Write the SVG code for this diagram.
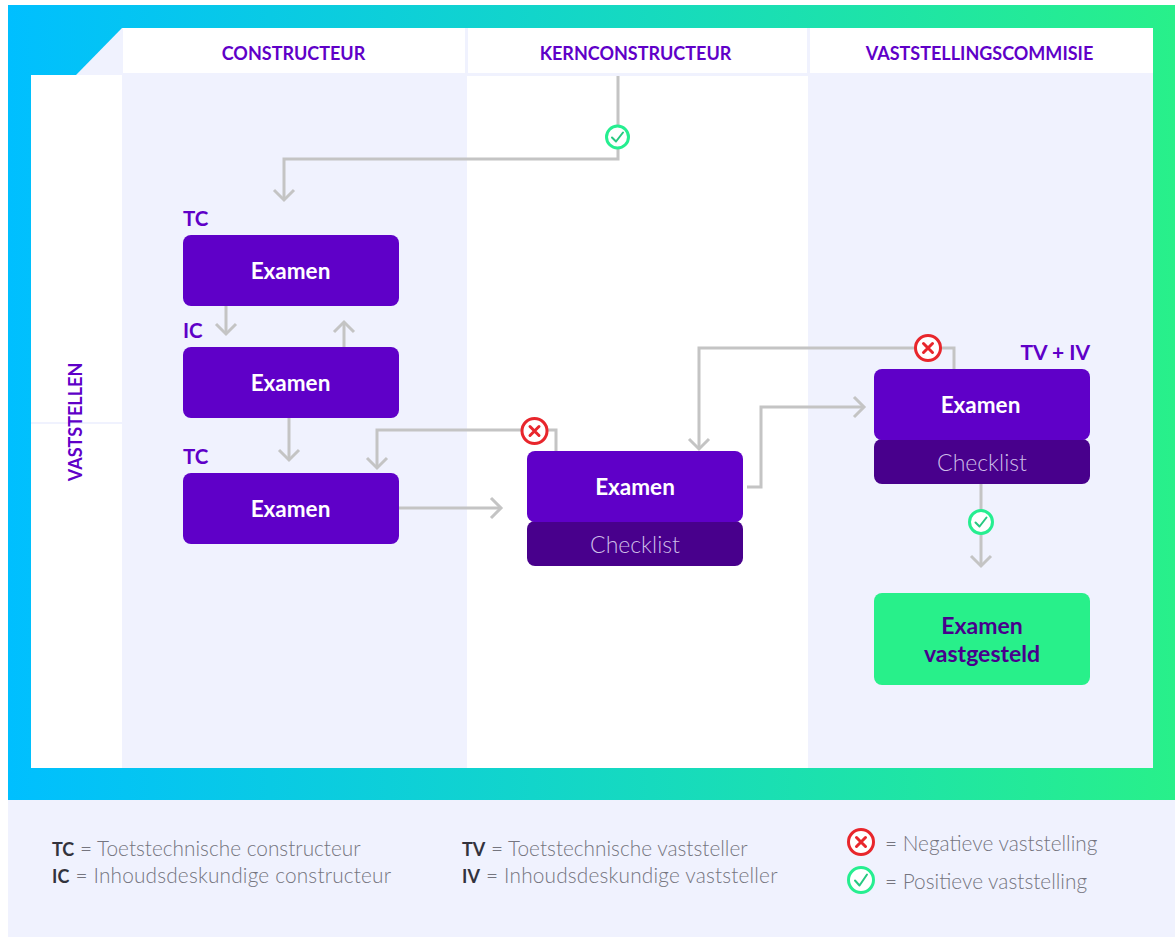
<svg xmlns="http://www.w3.org/2000/svg" width="1175" height="937" viewBox="0 0 1175 937">
<style>
text{font-family:Lato,"Liberation Sans",sans-serif}
.lane{font-weight:700;font-size:18px;fill:#5f00c8;text-anchor:middle}
.role{font-weight:700;font-size:20.500px;fill:#5f00c8}
.ex{fill:#5f00c8}
.cl{fill:#48008c}
.t{font-weight:700;font-size:22.500px;fill:#fff;text-anchor:middle}
.c{font-weight:300;font-size:23px;fill:#cdbde8;text-anchor:middle}
.g{font-weight:700;font-size:23px;fill:#48008c;text-anchor:middle}
.l{font-weight:300;font-size:20.800px;fill:#75757f}
.l tspan{font-weight:700;font-size:18px;fill:#33333d}
.s{letter-spacing:.18px}
.w{fill:none;stroke:#c4c4c4;stroke-width:3}
.no{fill:#fff;stroke:#e8262c;stroke-width:3}
.nox{fill:none;stroke:#e8262c;stroke-width:3;stroke-linecap:round}
.ok{fill:#fff;stroke:#26ee90;stroke-width:3}
.okv{fill:none;stroke:#26c880;stroke-width:2;stroke-linecap:round;stroke-linejoin:round}
</style>
<defs>
<linearGradient id="gr" x1="0" x2="1" y1="0" y2="0"><stop offset="0" stop-color="#00bfff"/><stop offset="1" stop-color="#28f08a"/></linearGradient>
<marker id="a" markerUnits="userSpaceOnUse" markerWidth="24" markerHeight="24" refX="19" refY="12" orient="auto"><path d="M9 2L19 12L9 22" fill="none" stroke="#c4c4c4" stroke-width="3"/></marker>
</defs>
<rect width="1175" height="937" fill="#fff"/>
<g id="background">
<rect x="8" y="5" width="1167" height="795" fill="url(#gr)"/>
<rect x="8" y="800" width="1167" height="137" fill="#f0f2fe"/>
<rect x="31" y="75" width="1122" height="693" fill="#fff"/>
<path d="M76 75L122 28H123V75Z" fill="#f0f2fe"/>
<rect x="123" y="28" width="1030" height="45" fill="#fff"/>
<rect x="122" y="73" width="345" height="695" fill="#f0f2fe"/>
<rect x="808" y="73" width="345" height="695" fill="#f0f2fe"/>
<rect x="467" y="73" width="341" height="3" fill="#f0f2fe"/>
<rect x="465" y="28" width="3" height="45" fill="#f0f2fe"/>
<rect x="807" y="28" width="3" height="45" fill="#f0f2fe"/>
<rect x="31" y="422" width="91" height="2" fill="#f0f2fe"/>
<text class="lane" x="293.500" y="59.500">CONSTRUCTEUR</text>
<text class="lane" x="635.500" y="59.500">KERNCONSTRUCTEUR</text>
<text class="lane" x="979.500" y="59.500">VASTSTELLINGSCOMMISIE</text>
<text class="lane" transform="translate(81.500 422) rotate(-90)">VASTSTELLEN</text>
</g>
<g id="connectors">
<path class="w" marker-end="url(#a)" d="M618 76V159H284V200"/>
<path class="w" marker-end="url(#a)" d="M226 306V334"/>
<path class="w" marker-end="url(#a)" d="M344 347V322"/>
<path class="w" marker-end="url(#a)" d="M289 418V460"/>
<path class="w" marker-end="url(#a)" d="M556 451V430H377V468"/>
<path class="w" marker-end="url(#a)" d="M399 508H501"/>
<path class="w" marker-end="url(#a)" d="M747 487H761V407H864"/>
<path class="w" marker-end="url(#a)" d="M954 369V348H699V449"/>
<path class="w" marker-end="url(#a)" d="M981 484V566"/>
</g>
<g id="badge-ok-1"><circle class="ok" cx="617.500" cy="137" r="11"/><path class="okv" d="M612 137.500L616 141.500L623 132.500"/></g>
<g id="badge-no-1"><circle class="no" cx="534.500" cy="431" r="12.500"/><path class="nox" d="M530 426.500L539 435.500M539 426.500L530 435.500"/></g>
<g id="badge-no-2"><circle class="no" cx="928" cy="348" r="12.500"/><path class="nox" d="M923.500 343.500L932.500 352.500M932.500 343.500L923.500 352.500"/></g>
<g id="badge-ok-2"><circle class="ok" cx="981" cy="522" r="11.500"/><path class="okv" d="M975.500 522.500L979.500 526.500L986.500 517.500"/></g>
<g id="node-tc1"><text class="role" x="183" y="226">TC</text><rect class="ex" x="183" y="235" width="216" height="71" rx="8"/><text class="t" x="290.500" y="279">Examen</text></g>
<g id="node-ic"><text class="role" x="183" y="338">IC</text><rect class="ex" x="183" y="347" width="216" height="71" rx="8"/><text class="t" x="290.500" y="391">Examen</text></g>
<g id="node-tc2"><text class="role" x="183" y="464">TC</text><rect class="ex" x="183" y="473" width="216" height="71" rx="8"/><text class="t" x="290.500" y="517">Examen</text></g>
<g id="node-kern"><rect class="cl" x="527" y="521" width="216" height="45" rx="8"/><rect class="ex" x="527" y="451" width="216" height="71" rx="8"/><text class="t" x="635" y="495">Examen</text><text class="c" x="635" y="553">Checklist</text></g>
<g id="node-vast"><text class="role" x="1090" y="360" text-anchor="end" style="font-size:21px">TV + IV</text><rect class="cl" x="874" y="439" width="216" height="45" rx="8"/><rect class="ex" x="874" y="369" width="216" height="71" rx="8"/><text class="t" x="980.500" y="413">Examen</text><text class="c" x="982" y="471">Checklist</text></g>
<g id="node-final"><rect x="874" y="593" width="216" height="92" rx="8" fill="#28f08a"/><text class="g" x="982" y="634">Examen</text><text class="g" x="982" y="662">vastgesteld</text></g>
<g id="legend">
<text class="l" x="52" y="856"><tspan>TC</tspan> = Toetstechnische constructeur</text>
<text class="l s" x="52" y="883"><tspan>IC</tspan> = Inhoudsdeskundige constructeur</text>
<text class="l" x="462" y="856"><tspan>TV</tspan> = Toetstechnische vaststeller</text>
<text class="l s" x="462" y="883"><tspan>IV</tspan> = Inhoudsdeskundige vaststeller</text>
<circle class="no" cx="861" cy="842" r="12.500"/><path class="nox" d="M856.500 837.500L865.500 846.500M865.500 837.500L856.500 846.500"/>
<text class="l" x="885" y="850.500">= Negatieve vaststelling</text>
<circle class="ok" cx="861" cy="880" r="12.500"/><path class="okv" d="M855 880.500L859.500 885.500L867 874.500"/>
<text class="l" x="885" y="888.500">= Positieve vaststelling</text>
</g>
</svg>
